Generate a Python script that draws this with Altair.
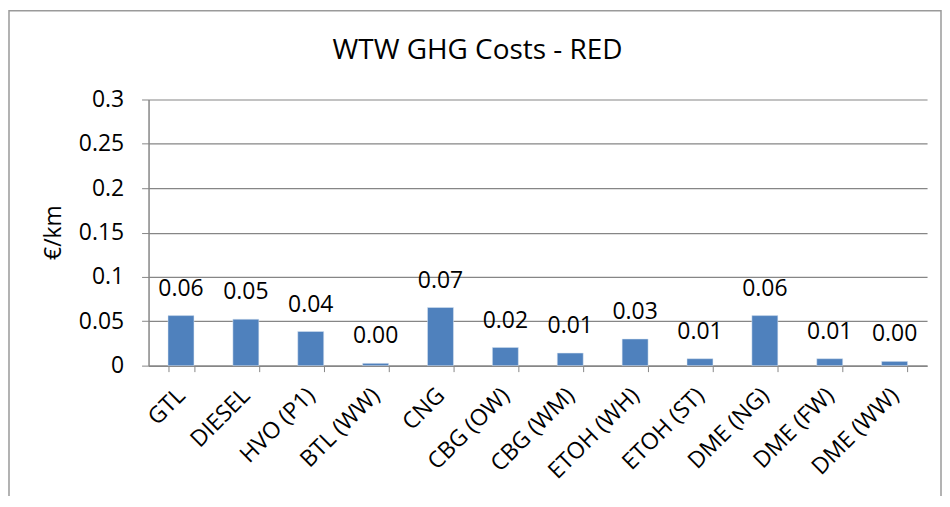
import altair as alt
import pandas as pd

categories = ["GTL", "DIESEL", "HVO (P1)", "BTL (WW)", "CNG", "CBG (OW)",
              "CBG (WM)", "ETOH (WH)", "ETOH (ST)", "DME (NG)", "DME (FW)", "DME (WW)"]
values = [0.0564, 0.0523, 0.0385, 0.0026, 0.0655, 0.0205,
          0.0142, 0.0300, 0.0078, 0.0564, 0.0078, 0.0048]
y_ticks = [0, 0.05, 0.1, 0.15, 0.2, 0.25, 0.3]
chart_title = "WTW GHG Costs - RED"

df = pd.DataFrame({"cat": categories, "val": values})

FONT = "Open Sans"
GRAY = "#868686"

x_enc = alt.X("cat:N", sort=categories,
              scale=alt.Scale(paddingInner=0.6, paddingOuter=0.3),
              axis=alt.Axis(title=None, labelAngle=-45, labelFontSize=23,
                            labelFont=FONT, labelColor="black",
                            tickBand="extent", tickSize=6, tickColor=GRAY,
                            domainColor=GRAY, domainWidth=1.5, labelPadding=20,
                            labelAlign="right", labelBaseline="middle"))
y_enc = alt.Y("val:Q", scale=alt.Scale(domain=[0, 0.3]),
              axis=alt.Axis(title="€/km", values=y_ticks, format="~g",
                            labelFontSize=23, labelFont=FONT, labelColor="black",
                            titleFont=FONT, titleFontSize=23, titleFontWeight="normal",
                            titleColor="black", titleX=-95, titleY=133,
                            titleBaseline="middle", titleAngle=-90,
                            tickSize=7, tickColor=GRAY, domainColor=GRAY,
                            domainWidth=1.5, gridColor=GRAY, gridWidth=1.2,
                            labelPadding=18))

bars = alt.Chart(df).mark_bar(color="#4F81BD", stroke="#DCE6F2", strokeWidth=0.5).encode(
    x=x_enc, y=y_enc)

labels = alt.Chart(df).mark_text(font=FONT, fontSize=23, color="black",
                                 baseline="bottom", dy=-15).encode(
    x=alt.X("cat:N", sort=categories),
    y=alt.Y("val:Q"),
    text=alt.Text("val:Q", format=".2f"))

border = alt.Chart(alt.Data(values=[{}])).mark_rect(
    fill=None, stroke="#9a9a9a", strokeWidth=1.5).encode(
    x=alt.value(-140), x2=alt.value(795), y=alt.value(-89), y2=alt.value(420))

title_mark = alt.Chart(alt.Data(values=[{"t": chart_title}])).mark_text(
    font=FONT, fontSize=28, color="black", align="center",
    baseline="alphabetic").encode(
    x=alt.value(330), y=alt.value(-41), text="t:N")

chart = alt.layer(border, bars, labels, title_mark).properties(
    width=781, height=267,
    autosize=alt.AutoSizeParams(type="none"),
    padding={"left": 141, "top": 91, "right": 15, "bottom": 130},
    background="white",
).configure_view(stroke=None)

chart.save("out.html", embed_options={"renderer": "svg", "actions": False})
